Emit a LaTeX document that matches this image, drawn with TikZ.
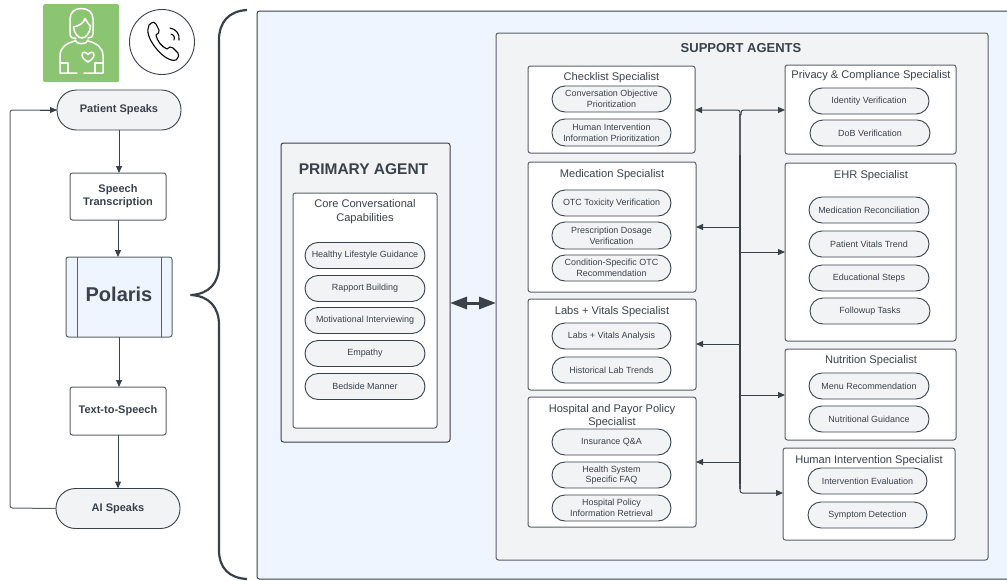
\documentclass[tikz,border=0pt]{standalone}
\usepackage{fontspec}
\setmainfont{Liberation Sans}
\usetikzlibrary{arrows.meta}
\definecolor{ink}{HTML}{3A414A}
\definecolor{edge}{HTML}{5A6068}
\definecolor{panel}{HTML}{EEF5FF}
\definecolor{soft}{HTML}{F2F3F5}
\definecolor{leaf}{HTML}{8CC572}
\newcommand{\bx}[6]{\node[#1,minimum width=#4-#3,minimum height=#6-#5,anchor=north west] (#2) at (#3,#5) {};}
\newcommand{\pl}[7]{\node[pillbox,minimum width=#3-#2,minimum height=#5-#4,anchor=north west,align=center] (#1) at (#2,#4) {#6};}
\tikzset{
 x=1pt,y=-1pt,
 frame/.style={draw=edge,line width=1pt,rounded corners=2.5pt,inner sep=0pt,outer sep=0pt,fill=white},
 softframe/.style={frame,fill=soft},
 pillbox/.style={draw=ink,line width=.9pt,rounded corners=13pt,fill=soft,inner sep=0pt,outer sep=0pt,text=ink,font=\fontsize{8.95}{10.6}\selectfont},
 flowpill/.style={draw=ink,line width=.9pt,rounded corners=19.5pt,fill=soft,inner sep=0pt,outer sep=0pt,text=ink,font=\fontsize{11}{13}\selectfont\bfseries},
 flowbox/.style={frame,text=ink,align=center,font=\fontsize{11}{13}\selectfont\bfseries},
 ttl/.style={text=ink,align=center,inner sep=0pt,font=\fontsize{11.1}{13}\selectfont},
 arr/.style={draw=ink,line width=1pt,-{Triangle[length=7pt,width=6pt]}},
 plainline/.style={draw=edge,line width=1pt,rounded corners=2.5pt},
}
\begin{document}
\begin{tikzpicture}
\useasboundingbox (0,0) rectangle (1007,581);
% icons
\node[fill=leaf,rounded corners=1.5pt,minimum width=76,minimum height=78,anchor=north west,inner sep=0pt] (icon) at (43,4) {};
\begin{scope}[draw=white,line width=1.5pt,line cap=round,line join=round]
\draw (76,38) -- (73,38) .. controls (71,38) and (70,36) .. (70,34) -- (70,19) .. controls (70,12) and (75,8.5) .. (81,8.5) .. controls (88,8.5) and (93,12) .. (93,19) -- (93,34) .. controls (93,37) and (91,38) .. (88,38);
\draw (73.5,27) .. controls (79,26) and (84,23) .. (85,18.5) .. controls (87,22) and (89,25) .. (90.5,26);
\draw (73.5,27) .. controls (74,33) and (78,38) .. (82,38) .. controls (86,38) and (90,33) .. (90.5,26);
\draw (75,40) .. controls (76,45) and (87,45) .. (88,40);
\draw (75,41) .. controls (67,43) and (60,47) .. (60,56) -- (60,73) -- (77,73);
\draw (60,63) -- (68,63) -- (68,73);
\draw (88,41) .. controls (96,43) and (103,47) .. (103,56) -- (103,73) -- (84,73);
\draw (103,63) -- (95,63) -- (95,73);
\draw (88,54.5) .. controls (85,51) and (82,52) .. (82,55) .. controls (82,58) and (85,60) .. (88,62) .. controls (91,60) and (94,58) .. (94,55) .. controls (94,52) and (91,51) .. (88,54.5);
\end{scope}
\node[draw=ink,line width=.9pt,circle,minimum size=65,inner sep=0pt,fill=white] (call) at (162,42) {};
\begin{scope}[draw=black,line width=1.1pt,line join=round,line cap=round]
\draw (149,25) .. controls (153,21) and (155,22) .. (156,24) -- (159,30) .. controls (160,32) and (158,34) .. (156,35) .. controls (157,41) and (162,47) .. (167,49) .. controls (169,47) and (171,46) .. (173,48) -- (178,53) .. controls (179,55) and (179,57) .. (176,60) .. controls (170,62) and (161,55) .. (155,47) .. controls (149,39) and (146,31) .. (149,25) -- cycle;
\draw (171,34) .. controls (174,35) and (175,37) .. (174,40);
\draw (170,28) .. controls (176,29) and (180,34) .. (179,40);
\end{scope}
% left flow
\node[flowpill,minimum width=124,minimum height=40,anchor=north west] (patient) at (57,90) {Patient Speaks};
\bx{flowbox}{stt}{70}{166}{173}{220}
\node[text=ink,align=center,inner sep=0pt,font=\fontsize{11}{13}\selectfont\bfseries] at (stt.center) {Speech\\Transcription};
\bx{frame,fill=panel}{polaris}{66}{172}{257}{337}
\draw[edge,line width=1pt] (77,257) -- (77,337) (161,257) -- (161,337);
\node[text=ink,inner sep=0pt,font=\fontsize{20}{24}\selectfont\bfseries] at (119,294.5) {Polaris};
\bx{flowbox}{tts}{70}{166}{387}{435}
\node[text=ink,inner sep=0pt,font=\fontsize{11}{13}\selectfont\bfseries] at (tts.center) {Text-to-Speech};
\node[flowpill,minimum width=124,minimum height=40,anchor=north west] (ai) at (56,488.5) {AI Speaks};
\draw[arr] (patient) -- (patient |- stt.north);
\draw[arr] (stt) -- (stt |- polaris.north);
\draw[arr] (polaris) -- (polaris |- tts.north);
\draw[arr] (tts) -- (tts |- ai.north);
\coordinate (loopa) at (10,508);
\coordinate (loopb) at (10,110);
\draw[plainline] (ai.west) -- (loopa) -- (loopb) -- (patient.west);
\draw[arr] (40,110) -- (patient.west);
% panels
\bx{frame,fill=panel,draw=ink}{blue}{257}{1012}{11}{579}
\bx{softframe}{support}{496}{988}{33}{560}
\bx{softframe,draw=ink}{primary}{281}{450}{143}{442}
% brace
\coordinate (bt) at (247,10);
\coordinate (bm) at (191,295);
\coordinate (bb) at (247,579);
\draw[ink,line width=2.2pt,line join=round] (bt) .. controls (229,11) and (219,22) .. (219,40) -- (219,265) .. controls (219,283) and (209,294) .. (bm) .. controls (209,296) and (219,307) .. (219,325) -- (219,550) .. controls (219,568) and (229,578) .. (bb);
% primary
\node[text=ink,inner sep=0pt,font=\fontsize{15.5}{18}\selectfont\bfseries] at (363.5,169) {PRIMARY AGENT};
\bx{frame}{core}{293}{437}{193}{428}
\node[ttl,font=\fontsize{11.1}{13.4}\selectfont] at (365,211.5) {Core Conversational\\Capabilities};
\pl{p1}{305}{425}{242.5}{268.5}{Healthy Lifestyle Guidance}{}
\pl{p2}{305}{425}{275.5}{301.5}{Rapport Building}{}
\pl{p3}{305}{425}{307.5}{333.5}{Motivational Interviewing}{}
\pl{p4}{305}{425}{340.5}{366.5}{Empathy}{}
\pl{p5}{305}{425}{373.5}{399.5}{Bedside Manner}{}
\draw[ink,line width=3pt,{Triangle[length=17pt,width=12pt]}-{Triangle[length=17pt,width=12pt]}] (primary.east |- 0,303) -- (support.west |- 0,303);
% support
\node[text=ink,inner sep=0pt,font=\fontsize{13}{15}\selectfont\bfseries] at (741,48) {SUPPORT AGENTS};
\bx{frame}{chk}{528}{695}{66}{153}
\bx{frame}{med}{528}{696}{162}{292}
\bx{frame}{labs}{528}{696}{299}{390}
\bx{frame}{hosp}{528}{696}{397}{527}
\bx{frame}{priv}{785}{956}{65}{154}
\bx{frame}{ehr}{785}{956}{163}{341}
\bx{frame}{nut}{785}{956}{349}{440}
\bx{frame}{hum}{783}{955}{448}{540}
\node[ttl] at (611.5,78) {Checklist Specialist};
\node[ttl] at (612,175) {Medication Specialist};
\node[ttl] at (612,312) {Labs + Vitals Specialist};
\node[ttl] at (612,416) {Hospital and Payor Policy\\Specialist};
\node[ttl] at (871,76) {Privacy \& Compliance Specialist};
\node[ttl] at (871,176) {EHR Specialist};
\node[ttl] at (871,361) {Nutrition Specialist};
\node[ttl] at (869,461) {Human Intervention Specialist};
\pl{c1}{552}{671}{86}{112}{Conversation Objective\\Prioritization}{}
\pl{c2}{552}{671}{119}{146}{Human Intervention\\Information Prioritization}{}
\pl{m1}{552}{671}{190}{216}{OTC Toxicity Verification}{}
\pl{m2}{552}{671}{222}{249}{Prescription Dosage\\Verification}{}
\pl{m3}{552}{671}{255}{281}{Condition-Specific OTC\\Recommendation}{}
\pl{l1}{552}{671}{323}{349}{Labs + Vitals Analysis}{}
\pl{l2}{552}{671}{357}{383}{Historical Lab Trends}{}
\pl{h1}{552}{671}{429}{455}{Insurance Q\&A}{}
\pl{h2}{552}{671}{462}{488}{Health System\\Specific FAQ}{}
\pl{h3}{552}{671}{495}{521}{Hospital Policy\\Information Retrieval}{}
\pl{v1}{809}{929}{88}{114}{Identity Verification}{}
\pl{v2}{810}{930}{120}{146}{DoB Verification}{}
\pl{e1}{809}{929}{197}{223}{Medication Reconciliation}{}
\pl{e2}{809}{929}{231}{257}{Patient Vitals Trend}{}
\pl{e3}{809}{929}{265}{291}{Educational Steps}{}
\pl{e4}{810}{930}{298}{324}{Followup Tasks}{}
\pl{n1}{809}{929}{373}{399}{Menu Recommendation}{}
\pl{n2}{809}{929}{406}{432}{Nutritional Guidance}{}
\pl{u1}{808}{927}{468}{494}{Intervention Evaluation}{}
\pl{u2}{808}{927}{502}{528}{Symptom Detection}{}
% bus
\coordinate (s1) at (740,110);
\coordinate (s2) at (740,227);
\coordinate (s3) at (740,344);
\coordinate (s4) at (740,462);
\coordinate (t1) at (740,110);
\coordinate (t2) at (740,252);
\coordinate (t3) at (740,395);
\coordinate (t4) at (740,493);
\draw[edge,line width=1.4pt] (740,114) -- (740,489);
\draw[ink,line width=1.4pt] (740,155) -- (740,484);
\foreach \a/\b in {s2/med,s3/labs,s4/hosp}{\draw[arr] (\a) -- (\a -| \b.east);}
\foreach \a/\b in {t2/ehr,t3/nut}{\draw[arr] (\a) -- (\a -| \b.west);}
\draw[arr,rounded corners=2.5pt] (740,115) -- (s1) -- (s1 -| chk.east);
\draw[arr,rounded corners=2.5pt] (741,115) -- (741,110) -- (t1 -| priv.west);
\draw[arr,rounded corners=2.5pt] (740,485) -- (t4) -- (t4 -| hum.west);
\end{tikzpicture}
\end{document}
